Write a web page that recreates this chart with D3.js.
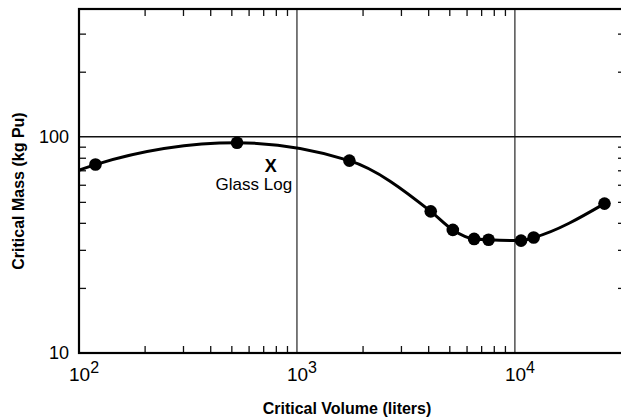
<!DOCTYPE html>
<html>
<head>
<meta charset="utf-8">
<script src="https://cdn.jsdelivr.net/npm/d3@7"></script>
<style>
    body { margin: 0; background: #fff; }
    svg { display: block; font-family: "Liberation Sans", Arial, Helvetica, sans-serif; }
</style>
</head>
<body>
<svg id="chart" width="621" height="420"></svg>
<script>
// Measured points: critical volume (liters) vs critical mass (kg Pu)
const volume = [119, 531, 1740, 4110, 5190, 6500, 7570, 10670, 12190, 25770];
const mass   = [74.4, 93.8, 77.6, 45.2, 37.1, 33.7, 33.4, 33.1, 34.2, 49.1];

// The fitted curve begins at the left frame, then runs through the points
const curveStartVolume = [100];
const curveStartMass   = [70];

// Glass log marker
const glassLogVolume = [759];
const glassLogMass   = [72.4];

// Axes
const xDomain = [100, 32000];
const yDomain = [10, 390];
const xMajor = [100, 1000, 10000];
const xExponents = ['2', '3', '4'];
const yMajor = [10, 100];
const yTickLabels = ['10', '100'];
const xGrid = [1000, 10000];
const yGrid = [100];

const svg = d3.select('#chart');
const box = {'left': 79, 'right': 625, 'top': 9, 'bottom': 353};

// Set scales
const x = d3.scaleLog().domain(xDomain).range([box.left, box.right]);
const y = d3.scaleLog().domain(yDomain).range([box.bottom, box.top]);

// Minor ticks (no minor ticks were printed past 10^4 on the volume axis)
const isPow10 = v => Math.abs(Math.log10(v) - Math.round(Math.log10(v))) < 1e-9;
const xMinor = x.ticks().filter(v => v < 10000 && !isPow10(v));
const yMinor = y.ticks().filter(v => !isPow10(v));

function tickAxis(axis, tx, ty) {
    let g = svg.append('g')
        .attr('transform', `translate(${tx}, ${ty})`)
        .call(axis.tickSizeInner(-7).tickSizeOuter(0).tickFormat(''));
    g.select('.domain').remove();
    g.selectAll('line').attr('stroke', '#111').attr('stroke-width', 1.3);
}
tickAxis(d3.axisBottom(x).tickValues(xMinor), 0, box.bottom);
tickAxis(d3.axisTop(x).tickValues(xMinor), 0, box.top);
tickAxis(d3.axisLeft(y).tickValues(yMinor), box.left, 0);
tickAxis(d3.axisRight(y).tickValues(yMinor), box.right, 0);

// Grid lines at the decades
svg.append('g').selectAll('line')
    .data(xGrid).enter().append('line')
    .attr('x1', d => x(d)).attr('x2', d => x(d))
    .attr('y1', box.top).attr('y2', box.bottom)
    .attr('stroke', '#111').attr('stroke-width', 1.1);
svg.append('g').selectAll('line')
    .data(yGrid).enter().append('line')
    .attr('x1', box.left).attr('x2', box.right)
    .attr('y1', d => y(d)).attr('y2', d => y(d))
    .attr('stroke', '#111').attr('stroke-width', 1.4);

// Frame
svg.append('rect')
    .attr('x', box.left).attr('y', box.top)
    .attr('width', box.right - box.left).attr('height', box.bottom - box.top)
    .attr('fill', 'none').attr('stroke', '#000').attr('stroke-width', 2.2);

// Tick labels
svg.append('g').selectAll('text')
    .data(yMajor).enter().append('text')
    .attr('x', box.left - 10).attr('y', d => y(d))
    .attr('dy', '0.35em')
    .attr('text-anchor', 'end')
    .attr('font-size', 18)
    .text((d, i) => yTickLabels[i]);

let xl = svg.append('g').selectAll('text')
    .data(xMajor).enter().append('text')
    .attr('x', d => x(d) - 10).attr('y', 381)
    .attr('font-size', 19);
xl.append('tspan').text('10');
xl.append('tspan').attr('dy', -8).attr('font-size', 16)
    .text((d, i) => xExponents[i]);

// Axis titles
svg.append('text')
    .attr('x', 347).attr('y', 414)
    .attr('text-anchor', 'middle')
    .attr('font-size', 16).attr('font-weight', 'bold')
    .text('Critical Volume (liters)');
svg.append('text')
    .attr('transform', `translate(${24}, ${191}) rotate(-90)`)
    .attr('text-anchor', 'middle')
    .attr('font-size', 16).attr('font-weight', 'bold')
    .text('Critical Mass (kg Pu)');

// Fitted curve
const curve = curveStartVolume.concat(volume)
    .map((v, i) => ({'x': v, 'y': curveStartMass.concat(mass)[i]}));
const lineGen = d3.line()
    .curve(d3.curveMonotoneX)
    .x(d => x(d.x))
    .y(d => y(d.y));
svg.append('path')
    .datum(curve)
    .attr('d', lineGen)
    .attr('fill', 'none')
    .attr('stroke', '#000')
    .attr('stroke-width', 3);

// Points
svg.append('g').selectAll('circle')
    .data(volume).enter().append('circle')
    .attr('cx', d => x(d))
    .attr('cy', (d, i) => y(mass[i]))
    .attr('r', 6.3)
    .attr('fill', '#000');

// Glass log marker and label
let gx = x(glassLogVolume[0]), gy = y(glassLogMass[0]);
svg.append('text')
    .attr('x', gx).attr('y', gy - 1).attr('dy', '0.35em')
    .attr('text-anchor', 'middle')
    .attr('font-size', 18).attr('font-weight', 'bold')
    .text('X');
svg.append('text')
    .attr('x', gx - 17).attr('y', gy + 23)
    .attr('text-anchor', 'middle')
    .attr('font-size', 17)
    .text('Glass Log');
</script>
</body>
</html>
